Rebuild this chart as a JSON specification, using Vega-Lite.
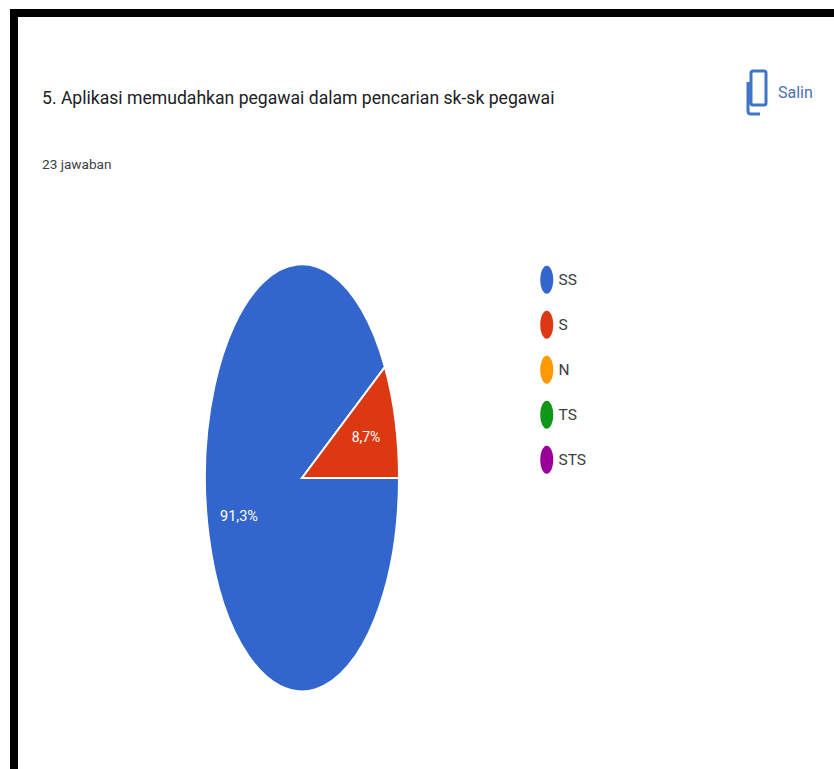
{
  "$schema": "https://vega.github.io/schema/vega-lite/v6.json",
  "width": 834,
  "height": 769,
  "padding": 0,
  "background": "white",
  "config": {"view": {"stroke": null}},
  "datasets": {
    "answers": [
      {"answer": "SS", "share": 91.3, "label": "91,3%"},
      {"answer": "S", "share": 8.7, "label": "8,7%"},
      {"answer": "N", "share": 0, "label": ""},
      {"answer": "TS", "share": 0, "label": ""},
      {"answer": "STS", "share": 0, "label": ""}
    ],
    "single": [{}]
  },
  "layer": [
    {
      "data": {"name": "single"},
      "mark": {"type": "rule", "color": "black", "strokeWidth": 8},
      "encoding": {
        "x": {"datum": 14, "type": "quantitative", "scale": {"domain": [0, 834], "nice": false}, "axis": null},
        "y": {"datum": 9, "type": "quantitative", "scale": {"domain": [769, 0], "nice": false}, "axis": null},
        "y2": {"datum": 769}
      }
    },
    {
      "data": {"name": "single"},
      "mark": {"type": "rule", "color": "black", "strokeWidth": 8},
      "encoding": {
        "x": {"datum": 10, "type": "quantitative"},
        "x2": {"datum": 834},
        "y": {"datum": 13, "type": "quantitative"}
      }
    },
    {
      "data": {"name": "answers"},
      "mark": {"type": "point", "filled": true, "opacity": 1, "stroke": "white", "strokeWidth": 2, "size": 4},
      "encoding": {
        "x": {"datum": 302, "type": "quantitative"},
        "y": {"datum": 478, "type": "quantitative"},
        "fill": {
          "field": "answer",
          "type": "nominal",
          "sort": null,
          "scale": {
            "domain": ["SS", "S", "N", "TS", "STS"],
            "range": ["#3366cc", "#dc3912", "#ff9900", "#109618", "#990099"]
          },
          "legend": {
            "title": null,
            "orient": "none",
            "legendX": 537,
            "legendY": 272,
            "symbolType": "M-1.3,0A1.3,2.8 0 1,0 1.3,0A1.3,2.8 0 1,0 -1.3,0Z",
            "symbolSize": 100,
            "symbolStrokeWidth": 0,
            "symbolOffset": 2,
            "labelFont": "Roboto",
            "labelFontSize": 15.5,
            "labelColor": "#3c4043",
            "labelOffset": 4,
            "rowPadding": 16
          }
        },
        "shape": {
          "field": "share",
          "type": "nominal",
          "sort": null,
          "legend": null,
          "scale": {
            "domain": [91.3, 8.7, 0],
            "range": [
              "M0,0L82.9,-111A97,213.5 0 1,0 97,0Z",
              "M0,0L97,0A97,213.5 0 0,0 82.9,-111Z",
              "M0,0"
            ]
          }
        }
      }
    },
    {
      "data": {"name": "answers"},
      "transform": [{"filter": "datum.answer === 'SS'"}],
      "mark": {"type": "text", "font": "Roboto", "fontSize": 14.5, "color": "white"},
      "encoding": {
        "x": {"datum": 239, "type": "quantitative"},
        "y": {"datum": 517, "type": "quantitative"},
        "text": {"field": "label"}
      }
    },
    {
      "data": {"name": "answers"},
      "transform": [{"filter": "datum.answer === 'S'"}],
      "mark": {"type": "text", "font": "Roboto", "fontSize": 14, "color": "white"},
      "encoding": {
        "x": {"datum": 366, "type": "quantitative"},
        "y": {"datum": 438, "type": "quantitative"},
        "text": {"field": "label"}
      }
    },
    {
      "data": {"name": "single"},
      "mark": {"type": "text", "text": "5. Aplikasi memudahkan pegawai dalam pencarian sk-sk pegawai", "align": "left", "baseline": "alphabetic", "font": "Roboto", "fontSize": 17.6, "color": "#202124"},
      "encoding": {
        "x": {"datum": 42, "type": "quantitative"},
        "y": {"datum": 104, "type": "quantitative"}
      }
    },
    {
      "data": {"name": "single"},
      "mark": {"type": "text", "text": "23 jawaban", "align": "left", "baseline": "alphabetic", "font": "Roboto", "fontSize": 13.6, "color": "#3c4043"},
      "encoding": {
        "x": {"datum": 42, "type": "quantitative"},
        "y": {"datum": 169, "type": "quantitative"}
      }
    },
    {
      "data": {"name": "single"},
      "mark": {"type": "text", "text": "Salin", "align": "left", "baseline": "alphabetic", "font": "Roboto", "fontSize": 16, "color": "#4a70b8"},
      "encoding": {
        "x": {"datum": 778, "type": "quantitative"},
        "y": {"datum": 98, "type": "quantitative"}
      }
    },
    {
      "data": {"name": "single"},
      "mark": {
        "type": "point",
        "filled": false,
        "opacity": 1,
        "size": 4,
        "color": "#3f74c6",
        "strokeWidth": 3,
        "shape": "M-4,-21L7,-21Q9,-21 9,-19L9,11Q9,13 7,13L-4,13Q-6,13 -6,11L-6,-19Q-6,-21 -4,-21ZM-9,-10L-9,19Q-9,22 -6,22L3,22"
      },
      "encoding": {
        "x": {"datum": 757, "type": "quantitative"},
        "y": {"datum": 92, "type": "quantitative"}
      }
    }
  ]
}
